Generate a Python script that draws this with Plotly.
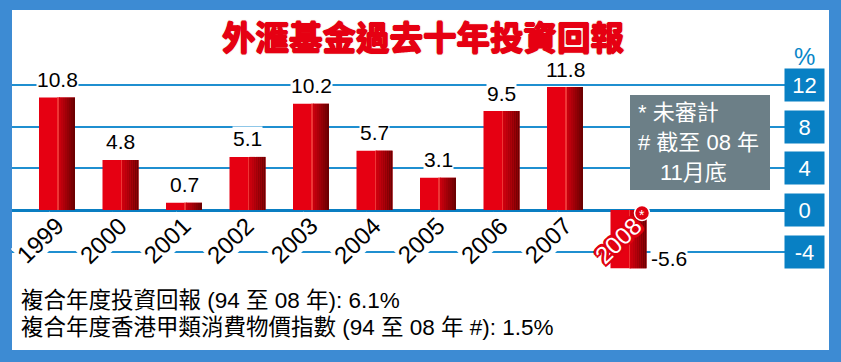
import plotly.graph_objects as go

# ---- data ----
years = ["1999", "2000", "2001", "2002", "2003", "2004", "2005", "2006", "2007", "2008"]
returns = [10.8, 4.8, 0.7, 5.1, 10.2, 5.7, 3.1, 9.5, 11.8, -5.6]
value_labels = ["10.8", "4.8", "0.7", "5.1", "10.2", "5.7", "3.1", "9.5", "11.8", "-5.6"]
tick_vals = [12, 8, 4, 0, -4]
tick_text = ["12", "8", "4", "0", "-4"]
title_text = "外滙基金過去十年投資回報"
note_lines = ["* 未審計", "# 截至 08 年", "11月底"]
foot_lines = ["複合年度投資回報 (94 至 08 年): 6.1%",
              "複合年度香港甲類消費物價指數 (94 至 08 年 #): 1.5%"]

W, H = 841, 362
STEP = 63.5          # px per category
X0PX = 57            # px centre of first bar
DOM_L, DOM_R = 12, 786
PT, PB = 40, 300     # plot area top/bottom px
ZERO_PX, PPU = 210, 125 / 12.0

xr = [(DOM_L - X0PX) / STEP, (DOM_R - X0PX) / STEP]
yr = [(ZERO_PX - PB) / PPU, (ZERO_PX - PT) / PPU]

FONT = "Liberation Sans, Arial, Noto Sans CJK TC, sans-serif"
CJK = "Noto Sans CJK TC, Liberation Sans, sans-serif"
RED = "#e60012"

x_idx = list(range(len(years)))
fig = go.Figure()

# base bar
BW = 36
fig.add_trace(go.Bar(x=x_idx, y=returns, width=BW / STEP, offset=-BW / 2 / STEP,
                     marker=dict(color=RED, line=dict(width=0)), hoverinfo="skip"))

# shading stripes (cylinder look)
def mix(c1, c2, t):
    a = [int(c1[i:i + 2], 16) for i in (1, 3, 5)]
    b = [int(c2[i:i + 2], 16) for i in (1, 3, 5)]
    return "#%02x%02x%02x" % tuple(int(round(a[k] + (b[k] - a[k]) * t)) for k in range(3))

stripes = [(18.5, 20, "#ee3636")]
n = 9
for k in range(n):
    a = 18 + k * 2
    stripes.append((a + 2 if k == 0 else a, a + 2, mix("#dc0010", "#660000", (k + 0.5) / n)))
for a, b, col in stripes:
    fig.add_trace(go.Bar(x=x_idx, y=returns, width=(b - a) / STEP if b > a else 0.0001,
                         offset=(a - BW / 2) / STEP,
                         marker=dict(color=col, line=dict(width=0)), hoverinfo="skip"))

ann = []
# value labels
for i, v in enumerate(returns):
    if v >= 0:
        ann.append(dict(x=i, y=v, xref="x", yref="y", text=value_labels[i], showarrow=False,
                        xanchor="center", yanchor="middle", yshift=18, borderpad=0,
                        bgcolor="white", font=dict(family=FONT, size=21, color="black")))
    else:
        ann.append(dict(x=i, y=v, xref="x", yref="y", text=value_labels[i], showarrow=False,
                        xanchor="left", yanchor="middle", xshift=21, yshift=10, borderpad=0,
                        bgcolor="white", font=dict(family=FONT, size=21, color="black")))

# year labels
for i, yname in enumerate(years):
    if returns[i] >= 0:
        ann.append(dict(x=i, y=0, xref="x", yref="y", text=yname, showarrow=False,
                        xanchor="center", yanchor="middle", xshift=-17, yshift=-31,
                        textangle=-44, borderpad=0, bgcolor="white",
                        font=dict(family=FONT, size=24, color="black")))
    else:
        sh = ", ".join("%dpx %dpx 0 #e00010" % (dx, dy)
                       for dx in (-2, 0, 2) for dy in (-2, 0, 2) if dx or dy)
        ann.append(dict(x=i, y=0, xref="x", yref="y", text=yname, showarrow=False,
                        xanchor="center", yanchor="middle", xshift=-10, yshift=-31,
                        textangle=-44,
                        font=dict(family=FONT, size=24, color="white", shadow=sh)))
        ann.append(dict(x=i, y=0, xref="x", yref="y", text="*", showarrow=False,
                        xanchor="center", yanchor="middle", xshift=13.5, yshift=-5,
                        font=dict(family=FONT, size=14, color="white")))

# right-side tick boxes
for v, t in zip(tick_vals, tick_text):
    ann.append(dict(x=804.5 / W, y=v, xref="paper", yref="y", text=t, showarrow=False,
                    xanchor="center", yanchor="middle", width=37, height=30,
                    bgcolor="#0880c4", font=dict(family=FONT, size=22, color="white")))
ann.append(dict(x=804 / W, y=1 - 56 / H, xref="paper", yref="paper", text="%", showarrow=False,
                xanchor="center", yanchor="middle",
                font=dict(family=FONT, size=24, color="#0a86c8")))

# title
tsh = "0.8px 0 0 #e60012, -0.8px 0 0 #e60012, 0 0.8px 0 #e60012, 0 -0.8px 0 #e60012, 0 0 2px #b04000"
ann.append(dict(x=423 / W, y=1 - 36 / H, xref="paper", yref="paper", text="<b>" + title_text + "</b>",
                showarrow=False, xanchor="center", yanchor="middle",
                font=dict(family=CJK, size=33.5, color=RED, shadow=tsh)))

# note box text
note_pos = [(636, 112, "left"), (636, 142, "left"), (658, 172, "left")]
for (px, py, anc), t in zip(note_pos, note_lines):
    ann.append(dict(x=px / W, y=1 - py / H, xref="paper", yref="paper", text=t, showarrow=False,
                    xanchor=anc, yanchor="middle",
                    font=dict(family=FONT, size=22, color="white")))

# footer
for py, t in zip([300, 327], foot_lines):
    ann.append(dict(x=19 / W, y=1 - py / H, xref="paper", yref="paper", text=t, showarrow=False,
                    xanchor="left", yanchor="middle",
                    font=dict(family=FONT, size=22.5, color="black")))

shapes = [
    # grey note box
    dict(type="rect", xref="paper", yref="paper", x0=630 / W, x1=770 / W,
         y0=1 - 190 / H, y1=1 - 95 / H, fillcolor="#6c7f87", line=dict(width=0), layer="above"),
    # asterisk circle for 2008
    dict(type="circle", xref="x", yref="y", xsizemode="pixel", ysizemode="pixel",
         xanchor=9, yanchor=0, x0=13.5 - 7.5, x1=13.5 + 7.5, y0=-3 - 7.5, y1=-3 + 7.5,
         fillcolor="#e00010", line=dict(color="white", width=1.5), layer="above"),
    # frame
    dict(type="rect", xref="paper", yref="paper", x0=0, x1=12 / W, y0=0, y1=1,
         fillcolor="#3d8bd3", line=dict(width=0), layer="above"),
    dict(type="rect", xref="paper", yref="paper", x0=829 / W, x1=1, y0=0, y1=1,
         fillcolor="#3d8bd3", line=dict(width=0), layer="above"),
    dict(type="rect", xref="paper", yref="paper", x0=0, x1=1, y0=1 - 10 / H, y1=1,
         fillcolor="#3d8bd3", line=dict(width=0), layer="above"),
    dict(type="rect", xref="paper", yref="paper", x0=0, x1=1, y0=0, y1=12 / H,
         fillcolor="#3d8bd3", line=dict(width=0), layer="above"),
]

fig.update_layout(
    width=W, height=H, margin=dict(l=0, r=0, t=0, b=0),
    paper_bgcolor="white", plot_bgcolor="white",
    barmode="overlay", showlegend=False,
    xaxis=dict(domain=[DOM_L / W, DOM_R / W], range=xr, showgrid=False, zeroline=False,
               showticklabels=False, fixedrange=True),
    yaxis=dict(domain=[1 - PB / H, 1 - PT / H], range=yr, tickvals=[12, 8, 4, -4],
               showgrid=True, gridcolor="#1f8fd0", gridwidth=2, zeroline=True,
               zerolinecolor="#0a7ec2", zerolinewidth=3, showticklabels=False, fixedrange=True),
    annotations=ann, shapes=shapes,
)

fig.write_html("out.html", config={"displayModeBar": False},
               default_width="841px", default_height="362px",
               post_script="document.body.style.margin='0';document.body.style.padding='0';"
                           "document.documentElement.style.overflow='hidden';")
